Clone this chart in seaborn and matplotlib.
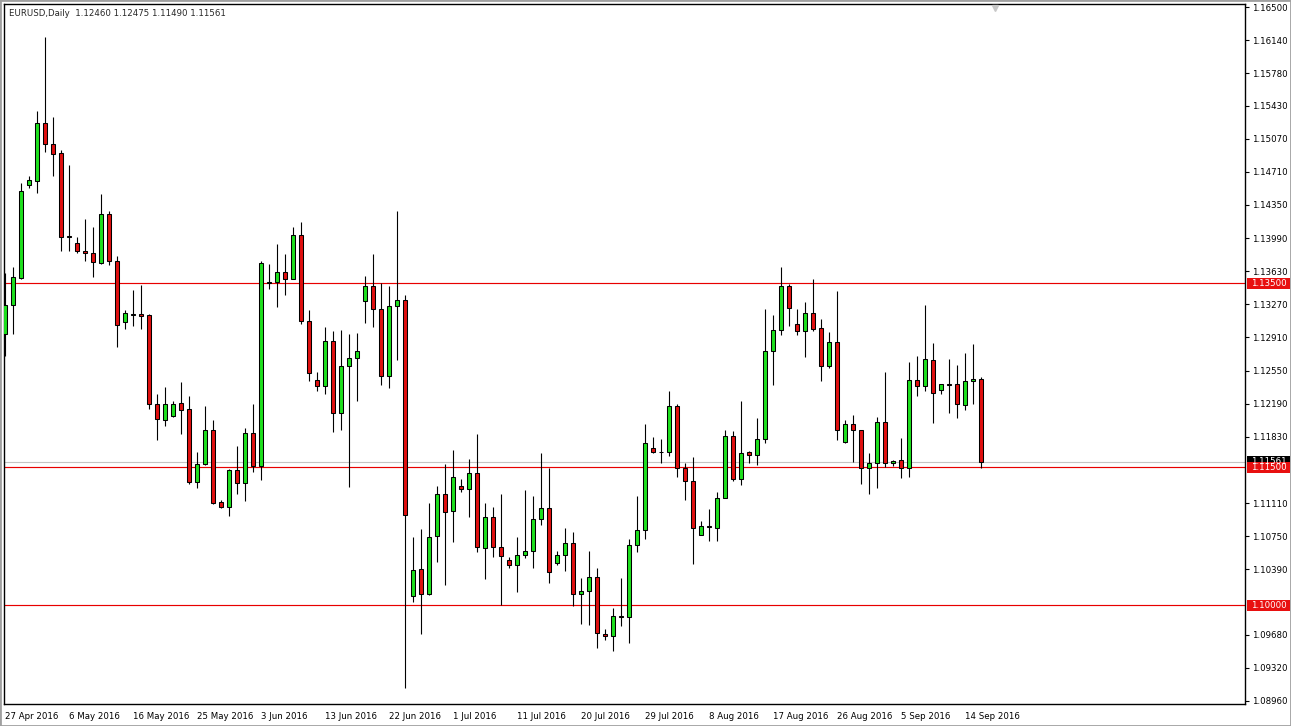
#!/usr/bin/env python3

# EURUSD daily candles (Apr-Sep 2016) drawn in the style of an MT4 chart window.

import matplotlib
matplotlib.use('Agg')
import matplotlib.pyplot as plt
from matplotlib.patches import Rectangle
from matplotlib.transforms import blended_transform_factory
import numpy as np
import pandas as pd
import seaborn as sns

title = 'EURUSD,Daily  1.12460 1.12475 1.11490 1.11561'

# broker feed has Sunday bars, so only Saturdays are missing
dates = [d for d in pd.date_range('2016-04-27', '2016-09-16') if d.dayofweek != 5]

opens = [
    1.1295, 1.1326, 1.1356, 1.1457, 1.1461, 1.1524, 1.1501, 1.1491, 1.1401, 1.1394,
    1.1385, 1.1383, 1.1372, 1.1425, 1.1374, 1.1308, 1.1315, 1.1316, 1.1315, 1.1219,
    1.1201, 1.1206, 1.1220, 1.1213, 1.1134, 1.1153, 1.1190, 1.1112, 1.1107, 1.1147,
    1.1133, 1.1187, 1.1151, 1.1351, 1.1351, 1.1362, 1.1355, 1.1402, 1.1309, 1.1245,
    1.1238, 1.1287, 1.1209, 1.1260, 1.1269, 1.1331, 1.1347, 1.1322, 1.1249, 1.1325,
    1.1332, 1.1010, 1.1039, 1.1012, 1.1075, 1.1121, 1.1102, 1.1130, 1.1126, 1.1144,
    1.1062, 1.1096, 1.1063, 1.1049, 1.1044, 1.1055, 1.1059, 1.1094, 1.1106, 1.1046,
    1.1055, 1.1068, 1.1012, 1.1015, 1.1031, 1.0969, 1.0967, 1.0988, 1.0987, 1.1066,
    1.1082, 1.1171, 1.1166, 1.1166, 1.1217, 1.1149, 1.1135, 1.1076, 1.1086, 1.1084,
    1.1117, 1.1184, 1.1137, 1.1167, 1.1163, 1.1181, 1.1276, 1.1299, 1.1347, 1.1306,
    1.1298, 1.1318, 1.1301, 1.1260, 1.1286, 1.1177, 1.1197, 1.1190, 1.1149, 1.1155,
    1.1199, 1.1155, 1.1158, 1.1149, 1.1245, 1.1238, 1.1267, 1.1234, 1.1240, 1.1240,
    1.1218, 1.1244, 1.12460,
]
highs = [
    1.1361, 1.1368, 1.1459, 1.1466, 1.1537, 1.1617, 1.1530, 1.1495, 1.1478, 1.1400,
    1.1420, 1.1411, 1.1447, 1.1428, 1.1379, 1.1321, 1.1343, 1.1348, 1.1317, 1.1230,
    1.1237, 1.1222, 1.1243, 1.1227, 1.1166, 1.1216, 1.1201, 1.1114, 1.1148, 1.1173,
    1.1193, 1.1219, 1.1374, 1.1371, 1.1393, 1.1382, 1.1411, 1.1416, 1.1321, 1.1253,
    1.1302, 1.1298, 1.1299, 1.1295, 1.1296, 1.1358, 1.1382, 1.1350, 1.1347, 1.1428,
    1.1337, 1.1074, 1.1083, 1.1111, 1.1130, 1.1154, 1.1169, 1.1137, 1.1159, 1.1186,
    1.1111, 1.1107, 1.1121, 1.1052, 1.1074, 1.1125, 1.1119, 1.1165, 1.1149, 1.1059,
    1.1084, 1.1080, 1.1030, 1.1059, 1.1040, 1.0974, 1.0997, 1.1030, 1.1072, 1.1119,
    1.1197, 1.1183, 1.1181, 1.1233, 1.1219, 1.1155, 1.1161, 1.1091, 1.1105, 1.1123,
    1.1190, 1.1189, 1.1222, 1.1168, 1.1203, 1.1322, 1.1315, 1.1368, 1.1349, 1.1322,
    1.1330, 1.1355, 1.1311, 1.1297, 1.1341, 1.1201, 1.1207, 1.1190, 1.1165, 1.1205,
    1.1253, 1.1158, 1.1182, 1.1264, 1.1271, 1.1326, 1.1285, 1.1240, 1.1268, 1.1261,
    1.1274, 1.1284, 1.12475,
]
lows = [
    1.1271, 1.1295, 1.1355, 1.1453, 1.1448, 1.1493, 1.1466, 1.1385, 1.1385, 1.1383,
    1.1374, 1.1357, 1.1371, 1.1370, 1.1281, 1.1300, 1.1303, 1.1300, 1.1213, 1.1180,
    1.1195, 1.1205, 1.1186, 1.1132, 1.1127, 1.1152, 1.1110, 1.1106, 1.1097, 1.1121,
    1.1113, 1.1145, 1.1136, 1.1344, 1.1324, 1.1337, 1.1354, 1.1306, 1.1244, 1.1233,
    1.1230, 1.1188, 1.1190, 1.1129, 1.1222, 1.1307, 1.1302, 1.1239, 1.1236, 1.1267,
    1.0910, 1.1003, 1.0969, 1.1011, 1.1047, 1.1022, 1.1069, 1.1123, 1.1096, 1.1058,
    1.1028, 1.1052, 1.1000, 1.1040, 1.1014, 1.1051, 1.1041, 1.1087, 1.1024, 1.1044,
    1.1037, 1.0999, 1.0980, 1.0978, 1.0954, 1.0962, 1.0950, 1.0977, 1.0959, 1.1058,
    1.1072, 1.1165, 1.1155, 1.1162, 1.1139, 1.1114, 1.1045, 1.1076, 1.1070, 1.1070,
    1.1116, 1.1135, 1.1131, 1.1155, 1.1152, 1.1176, 1.1239, 1.1294, 1.1303, 1.1294,
    1.1270, 1.1298, 1.1244, 1.1258, 1.1180, 1.1176, 1.1156, 1.1132, 1.1121, 1.1127,
    1.1150, 1.1151, 1.1138, 1.1139, 1.1227, 1.1233, 1.1198, 1.1229, 1.1209, 1.1204,
    1.1212, 1.1219, 1.11490,
]
closes = [
    1.1326, 1.1357, 1.1450, 1.1462, 1.1524, 1.1501, 1.1490, 1.1400, 1.1400, 1.1385,
    1.1383, 1.1373, 1.1425, 1.1374, 1.1304, 1.1318, 1.1317, 1.1314, 1.1219, 1.1202,
    1.1219, 1.1219, 1.1212, 1.1134, 1.1154, 1.1190, 1.1111, 1.1107, 1.1147, 1.1133,
    1.1187, 1.1151, 1.1372, 1.1350, 1.1362, 1.1355, 1.1402, 1.1309, 1.1252, 1.1238,
    1.1287, 1.1209, 1.1260, 1.1269, 1.1276, 1.1347, 1.1322, 1.1249, 1.1325, 1.1332,
    1.1098, 1.1038, 1.1012, 1.1074, 1.1121, 1.1101, 1.1139, 1.1126, 1.1144, 1.1063,
    1.1096, 1.1063, 1.1053, 1.1044, 1.1055, 1.1059, 1.1094, 1.1106, 1.1036, 1.1055,
    1.1068, 1.1012, 1.1015, 1.1031, 1.0970, 1.0967, 1.0988, 1.0987, 1.1066, 1.1082,
    1.1176, 1.1166, 1.1167, 1.1217, 1.1149, 1.1135, 1.1084, 1.1086, 1.1085, 1.1117,
    1.1184, 1.1137, 1.1165, 1.1163, 1.1181, 1.1276, 1.1299, 1.1347, 1.1323, 1.1298,
    1.1318, 1.1300, 1.1260, 1.1286, 1.1190, 1.1197, 1.1190, 1.1149, 1.1155, 1.1199,
    1.1155, 1.1157, 1.1149, 1.1245, 1.1238, 1.1268, 1.1231, 1.1240, 1.1239, 1.1219,
    1.1244, 1.1246, 1.11561,
]

levels = [1.13500, 1.11500, 1.10000]

price_ticks = [
    1.16500, 1.16140, 1.15780, 1.15430, 1.15070, 1.14710, 1.14350, 1.13990,
    1.13630, 1.13270, 1.12910, 1.12550, 1.12190, 1.11830, 1.11110, 1.10750,
    1.10390, 1.09680, 1.09320, 1.08960,
]
date_labels = [
    '27 Apr 2016', '6 May 2016', '16 May 2016', '25 May 2016', '3 Jun 2016',
    '13 Jun 2016', '22 Jun 2016', '1 Jul 2016', '11 Jul 2016', '20 Jul 2016',
    '29 Jul 2016', '8 Aug 2016', '17 Aug 2016', '26 Aug 2016', '5 Sep 2016',
    '14 Sep 2016',
]

BULL = '#1ee01e'
BEAR = '#e01010'
LEVEL = '#e80000'

W, H = 1291, 726


def build_frame():
    df = pd.DataFrame({
        'date': dates, 'open': opens, 'high': highs, 'low': lows, 'close': closes,
    })
    df['x'] = np.arange(len(df))
    df['bottom'] = df[['open', 'close']].min(axis=1)
    df['body'] = (df['close'] - df['open']).abs().clip(lower=0.00002)
    df['color'] = np.where(df['close'] >= df['open'], BULL, BEAR)
    return df


def draw_label(ax, price, text, face):
    trans = blended_transform_factory(ax.transAxes, ax.transData)
    y0, y1 = ax.get_ylim()
    half = 5.5 * (y1 - y0) / ax.bbox.height
    x0 = 1.0016
    ax.add_patch(Rectangle((x0, price - half), 0.0346, 2 * half, transform=trans,
                           facecolor=face, edgecolor='none', clip_on=False, zorder=5))
    ax.text(x0 + 0.0173, price, text, transform=trans, ha='center', va='center',
            color='white', fontsize=6.2, clip_on=False, zorder=6)


def main():
    sns.set_style('white')
    plt.rcParams['font.family'] = ['DejaVu Sans']
    df = build_frame()

    fig = plt.figure(figsize=(W / 100, H / 100), dpi=100)
    ax = fig.add_axes([4 / W, (H - 704) / H, 1241 / W, 700 / H])
    ax.set_xlim(-0.125, 155)
    ax.set_ylim(1.08927, 1.16533)

    for lv in levels:
        ax.axhline(lv, color=LEVEL, lw=0.85, zorder=1)
    ax.axhline(df['close'].iloc[-1], color='#c4c4c4', lw=0.8, zorder=0.9)

    ax.vlines(df['x'], df['low'], df['high'], color='black', lw=0.8, zorder=2)
    ax.bar(df['x'], df['body'], bottom=df['bottom'], width=0.55,
           color=df['color'], edgecolor='black', linewidth=0.75, zorder=3)

    ax.yaxis.tick_right()
    ax.set_yticks(price_ticks)
    ax.set_yticklabels(['{:.5f}'.format(p) for p in price_ticks])
    ax.set_xticks(np.arange(0, 8 * len(date_labels), 8))
    ax.set_xticklabels(date_labels, ha='left')
    ax.tick_params(axis='y', length=3, width=0.8, pad=2, labelsize=6.2, colors='black')
    ax.tick_params(axis='x', length=4, width=0.8, pad=1.5, labelsize=6.2, colors='black')
    for sp in ax.spines.values():
        sp.set_color('black')
        sp.set_linewidth(1.0)

    # bid label sits under the 1.11500 level label, only its top edge shows
    draw_label(ax, df['close'].iloc[-1], '1.11561', 'black')
    for lv in levels:
        draw_label(ax, lv, '{:.5f}'.format(lv), '#e81010')

    ax.plot(0.7986, 0.994, marker='v', ms=5, color='#c8c8c8', transform=ax.transAxes,
            clip_on=False, zorder=4)
    fig.text(9 / W, 1 - 14 / H, title, fontsize=6.2, va='center', ha='left')
    fig.patches.append(Rectangle((0, 0), 1, 1, transform=fig.transFigure, fill=False,
                                 edgecolor='#a0a0a0', linewidth=2))

    fig.savefig('out.png', dpi=100)


if __name__ == '__main__':
    main()
